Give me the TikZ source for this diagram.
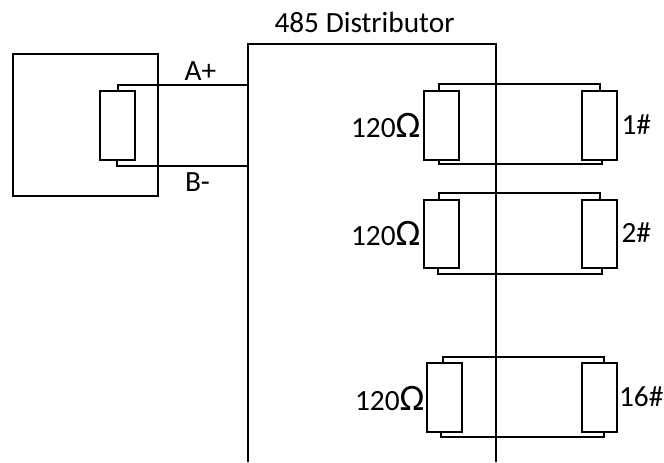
\documentclass[tikz,border=0pt]{standalone}
\usepackage{fontspec}
\setmainfont{Carlito}
\newcommand{\ohmsign}{{\fontsize{28pt}{28pt}\selectfont Ω}}
\begin{document}
\begin{tikzpicture}[x=0.75pt,y=-0.75pt,
  line cap=butt,line join=miter,
  wire/.style={draw=black,line width=1.5pt},
  res/.style={draw=black,line width=1.5pt,fill=none,minimum width=26.25pt,minimum height=51.4pt,inner sep=0pt,outer sep=0pt},
  unitbox/.style={draw=black,line width=1.5pt,minimum width=108.4pt,minimum height=107.2pt,inner sep=0pt,outer sep=0pt},
  lbl/.style={font=\fontsize{22pt}{24pt}\selectfont,inner sep=0pt,outer sep=0pt},
  ohm/.style={font=\fontsize{22pt}{24pt}\selectfont,inner sep=0pt,outer sep=0pt,anchor=east}]
\useasboundingbox (0,0) rectangle (664,462);
% unit on the left
\node[unitbox] (unit) at (85.75,125) {};
\node[res] (ra) at (117,125.25) {};
% distributor outline, open at the bottom
\coordinate (dbl) at (248,462);
\coordinate (dtl) at (248,43.5);
\coordinate (dtr) at (496,43.5);
\coordinate (dbr) at (496,462);
\draw[wire] (dbl) -- (dtl) -- (dtr) -- (dbr);
\coordinate (da) at (248,84.5);
\coordinate (db) at (248,166);
\draw[wire] ([xshift=1.1pt]ra.north) |- (da);
\draw[wire] (ra.south) |- (db);
% row 1
\node[res] (l1) at (441,125.25) {};
\node[res] (r1) at (599.5,125.25) {};
\draw[wire] ([xshift=-1.5pt]l1.north) -- ++(0,4.9pt) -| ([xshift=0.4pt]r1.north);
\draw[wire] ([xshift=-1.2pt]l1.south) -- ++(0,-3.7pt) -| ([xshift=1.9pt]r1.south);
% row 2
\node[res] (l2) at (441,234) {};
\node[res] (r2) at (599.5,234) {};
\draw[wire] ([xshift=-1.5pt]l2.north) -- ++(0,5.2pt) -| ([xshift=0.4pt]r2.north);
\draw[wire] ([xshift=-1.9pt]l2.south) -- ++(0,-4.1pt) -| ([xshift=1.9pt]r2.south);
% row 3
\node[res] (l3) at (444.25,397.5) {};
\node[res] (r3) at (599.5,397.5) {};
\draw[wire] ([xshift=-1.3pt]l3.north) -- ++(0,4.9pt) -| ([xshift=3.7pt]r3.north);
\draw[wire] ([xshift=-2.8pt]l3.south) -- ++(0,-4.1pt) -| ([xshift=3.7pt]r3.south);
% labels
\node[lbl] (title) at (364.5,22.5) {485 Distributor};
\node[lbl] (ap) at (200.5,71) {A+};
\node[lbl] (bm) at (197.5,182) {B-};
\node[ohm] (o1) at (420.5,125.5) {120\ohmsign};
\node[ohm] (o2) at (420.5,233.5) {120\ohmsign};
\node[ohm] (o3) at (424.5,398) {120\ohmsign};
\node[lbl,anchor=west] (n1) at (621.5,124.5) {1\#};
\node[lbl,anchor=west] (n2) at (621.5,232.5) {2\#};
\node[lbl,anchor=west] (n3) at (619,396.5) {16\#};
\end{tikzpicture}
\end{document}
